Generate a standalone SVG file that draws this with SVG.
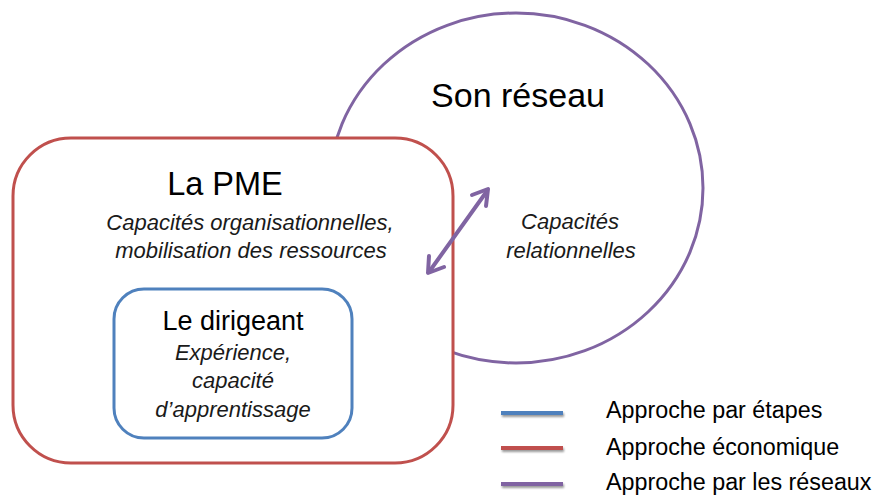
<svg xmlns="http://www.w3.org/2000/svg" width="879" height="497" viewBox="0 0 879 497">
<style>
.t{font-family:"Liberation Sans",Arial,sans-serif;fill:#000;text-anchor:middle}
.i{font-style:italic;font-size:22px;fill:#1a1a1a}
.lg{font-family:"Liberation Sans",Arial,sans-serif;font-size:23.3px;fill:#000}
.leg{filter:url(#sh)}
</style>
<defs>
<filter id="sh" filterUnits="userSpaceOnUse" x="480" y="395" width="110" height="105">
<feGaussianBlur in="SourceAlpha" stdDeviation="1.2"/>
<feOffset dx="1" dy="2" result="b"/>
<feComponentTransfer><feFuncA type="linear" slope="0.4"/></feComponentTransfer>
<feMerge><feMergeNode/><feMergeNode in="SourceGraphic"/></feMerge>
</filter>
</defs>
<rect width="879" height="497" fill="#fff"/>
<g id="reseau">
<ellipse cx="516" cy="188" rx="187" ry="175" fill="#fff" stroke="#8064A2" stroke-width="3"/>
<text class="t" x="518" y="107" font-size="34">Son réseau</text>
<text class="t i" x="570" y="229">Capacités</text>
<text class="t i" x="571" y="258">relationnelles</text>
</g>
<g id="pme">
<rect x="13" y="138" width="440" height="325" rx="58" ry="58" fill="#fff" stroke="#C0504D" stroke-width="3"/>
<text class="t" x="225" y="195" font-size="32.5">La PME</text>
<text class="t i" x="250" y="230">Capacités organisationnelles,</text>
<text class="t i" x="251" y="258">mobilisation des ressources</text>
</g>
<g id="dirigeant">
<rect x="114" y="289" width="238" height="149" rx="30" ry="30" fill="#fff" stroke="#4F81BD" stroke-width="3"/>
<text class="t" x="233" y="330" font-size="27">Le dirigeant</text>
<text class="t i" x="233" y="360">Expérience,</text>
<text class="t i" x="233" y="388">capacité</text>
<text class="t i" x="233" y="417">d’apprentissage</text>
</g>
<g id="connectors" stroke="#8064A2" stroke-width="4" fill="none" stroke-linecap="round" stroke-linejoin="round">
<line x1="429" y1="272" x2="487" y2="191"/>
<polyline points="472,195 488,189 486,206"/>
<polyline points="429,256 428,273 444,267"/>
</g>
<g id="legend">
<rect class="leg" x="501" y="411" width="62" height="4" fill="#4F81BD"/>
<rect class="leg" x="501" y="446" width="62" height="4" fill="#C0504D"/>
<rect class="leg" x="501" y="482" width="62" height="4" fill="#8064A2"/>
<text class="lg" x="606" y="418">Approche par étapes</text>
<text class="lg" x="606" y="455">Approche économique</text>
<text class="lg" x="606" y="490">Approche par les réseaux</text>
</g>
</svg>
